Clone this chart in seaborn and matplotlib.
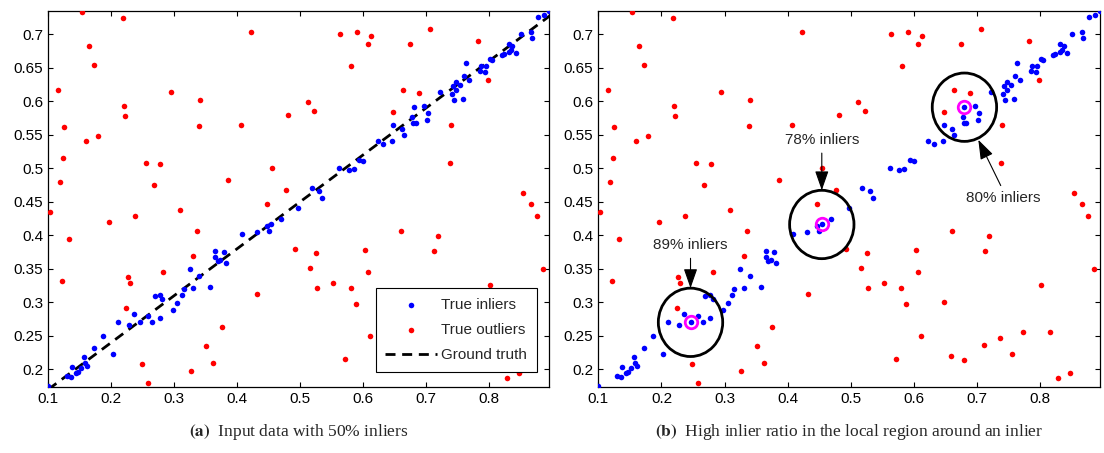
import matplotlib
matplotlib.use('agg')
import matplotlib.pyplot as plt
from matplotlib.patches import Circle
import seaborn as sns

# true inliers (blue)
inlier_x = [0.100, 0.129, 0.136, 0.138, 0.144, 0.147, 0.152, 0.157, 0.158, 0.162,
            0.173, 0.186, 0.203, 0.211, 0.228, 0.236, 0.246, 0.258, 0.265, 0.269,
            0.277, 0.277, 0.281, 0.298, 0.305, 0.312, 0.315, 0.325, 0.330, 0.340,
            0.357, 0.365, 0.365, 0.369, 0.373, 0.379, 0.382, 0.408, 0.431, 0.447,
            0.450, 0.454, 0.469, 0.497, 0.518, 0.530, 0.535, 0.562, 0.577, 0.585,
            0.594, 0.600, 0.623, 0.632, 0.646, 0.647, 0.661, 0.664, 0.677, 0.679,
            0.683, 0.680, 0.697, 0.703, 0.701, 0.722, 0.741, 0.744, 0.758, 0.747,
            0.742, 0.748, 0.754, 0.760, 0.768, 0.763, 0.785, 0.794, 0.787, 0.795,
            0.801, 0.805, 0.821, 0.824, 0.831, 0.834, 0.842, 0.831, 0.837, 0.850,
            0.866, 0.868, 0.878, 0.887, 0.895]
inlier_y = [0.175, 0.190, 0.189, 0.203, 0.195, 0.196, 0.202, 0.218, 0.209, 0.205,
            0.232, 0.249, 0.223, 0.270, 0.266, 0.283, 0.270, 0.280, 0.271, 0.310,
            0.311, 0.277, 0.305, 0.289, 0.299, 0.311, 0.320, 0.350, 0.321, 0.339,
            0.322, 0.377, 0.367, 0.362, 0.363, 0.375, 0.358, 0.402, 0.405, 0.414,
            0.407, 0.416, 0.424, 0.440, 0.471, 0.466, 0.455, 0.501, 0.498, 0.499,
            0.512, 0.511, 0.540, 0.536, 0.541, 0.565, 0.558, 0.550, 0.576, 0.568,
            0.567, 0.591, 0.593, 0.583, 0.572, 0.614, 0.610, 0.602, 0.603, 0.617,
            0.622, 0.629, 0.624, 0.638, 0.632, 0.657, 0.645, 0.643, 0.653, 0.653,
            0.663, 0.661, 0.669, 0.671, 0.674, 0.676, 0.672, 0.685, 0.683, 0.700,
            0.703, 0.694, 0.726, 0.728, 0.735]

# true outliers (red)
outlier_x = [0.153, 0.219, 0.422, 0.164, 0.173, 0.115, 0.294, 0.341, 0.220, 0.222,
             0.481, 0.125, 0.339, 0.406, 0.179, 0.159, 0.123, 0.255, 0.278, 0.455,
             0.118, 0.268, 0.386, 0.477,
             0.563, 0.590, 0.612, 0.607, 0.706, 0.674, 0.783, 0.581, 0.798, 0.663,
             0.689, 0.512, 0.522, 0.647, 0.740, 0.738, 0.853,
             0.102, 0.132, 0.122, 0.196, 0.237, 0.309, 0.336, 0.330, 0.226, 0.230,
             0.282, 0.224, 0.432, 0.375, 0.351, 0.249, 0.362, 0.326, 0.258, 0.447,
             0.492,
             0.525, 0.516, 0.527, 0.552, 0.580, 0.588, 0.603, 0.607, 0.660, 0.713,
             0.719, 0.611, 0.571, 0.866, 0.876, 0.886, 0.802, 0.829, 0.847,
             0.648, 0.815, 0.772, 0.737, 0.711, 0.755, 0.658, 0.680]
outlier_y = [0.733, 0.724, 0.703, 0.683, 0.654, 0.616, 0.613, 0.601, 0.593, 0.578,
             0.579, 0.561, 0.563, 0.564, 0.548, 0.541, 0.515, 0.508, 0.506, 0.501,
             0.480, 0.475, 0.482, 0.467,
             0.700, 0.703, 0.697, 0.686, 0.708, 0.685, 0.690, 0.652, 0.631, 0.616,
             0.612, 0.599, 0.585, 0.584, 0.565, 0.507, 0.463,
             0.435, 0.394, 0.331, 0.420, 0.429, 0.437, 0.406, 0.369, 0.337, 0.329,
             0.345, 0.292, 0.313, 0.263, 0.234, 0.208, 0.210, 0.198, 0.180, 0.447,
             0.379,
             0.373, 0.351, 0.321, 0.329, 0.321, 0.298, 0.378, 0.345, 0.407, 0.377,
             0.399, 0.249, 0.216, 0.446, 0.428, 0.350, 0.325, 0.187, 0.195,
             0.300, 0.255, 0.255, 0.247, 0.236, 0.223, 0.220, 0.214]

# ground truth line y = 0.7 x + 0.1
gt_x = [0.1, 0.9]
gt_y = [0.17, 0.73]

# local regions in panel (b): picked inlier, radius, ratio label
query_idx = [16, 41, 61]
query_labels = ['89% inliers', '78% inliers', '80% inliers']
region_radius = 0.051

xticks = [0.1, 0.2, 0.3, 0.4, 0.5, 0.6, 0.7, 0.8]
yticks = [0.2, 0.25, 0.3, 0.35, 0.4, 0.45, 0.5, 0.55, 0.6, 0.65, 0.7]

captions = [('(a)', 'Input data with 50% inliers'),
            ('(b)', 'High inlier ratio in the local region around an inlier')]

sns.set_style('ticks')
plt.rcParams['font.family'] = ['Liberation Sans', 'DejaVu Sans']

fig = plt.figure(figsize=(11.04, 4.53), dpi=100)
ax1 = fig.add_axes([0.0438, 0.1464, 0.4535, 0.83])
ax2 = fig.add_axes([0.5420, 0.1464, 0.4545, 0.83])

for ax in (ax1, ax2):
    sns.scatterplot(x=inlier_x, y=inlier_y, ax=ax, color='#0000ff', s=16,
                    linewidth=0, label='True inliers', zorder=3)
    sns.scatterplot(x=outlier_x, y=outlier_y, ax=ax, color='#ff0000', s=16,
                    linewidth=0, label='True outliers', zorder=3)
    ax.set_xlim(0.1, 0.895)
    ax.set_ylim(0.174, 0.735)
    ax.set_xticks(xticks)
    ax.set_xticklabels([('%g' % t) for t in xticks])
    ax.set_yticks(yticks)
    ax.set_yticklabels([('%g' % t) for t in yticks])
    ax.tick_params(direction='in', top=True, right=True, length=3.6, width=0.8,
                   pad=3.6, labelsize=11, colors='black')
    for sp in ax.spines.values():
        sp.set_linewidth(0.9)
        sp.set_color('black')

# panel (a): ground truth + legend
ax1.plot(gt_x, gt_y, color='black', linewidth=2, linestyle='--',
         dashes=(3.6, 2.4), label='Ground truth', zorder=2)
leg = ax1.legend(loc='lower right', bbox_to_anchor=(0.975, 0.04), borderaxespad=0,
                 fontsize=11, frameon=True, fancybox=False, edgecolor='black',
                 handlelength=3.4, handletextpad=0.3, labelspacing=0.75,
                 borderpad=0.6, scatterpoints=1, markerscale=1.0)
leg.get_frame().set_linewidth(0.8)
leg.get_frame().set_alpha(1)

# panel (b): local regions
ax2.get_legend().remove()
for i in query_idx:
    cx, cy = inlier_x[i], inlier_y[i]
    ax2.add_patch(Circle((cx, cy), region_radius, fill=False, edgecolor='black',
                         linewidth=2.0, zorder=4))
    ax2.plot([cx], [cy], marker='o', markersize=9, markerfacecolor='none',
             markeredgecolor='#ff00ff', markeredgewidth=2.0, zorder=5)

arrow = dict(arrowstyle='-|>,head_length=1.0,head_width=0.35', color='black',
             lw=0.8, mutation_scale=12, shrinkA=2, shrinkB=0)
# 89% and 78%: text straight above the circle
for k, ty in ((0, 0.385), (1, 0.542)):
    cx, cy = inlier_x[query_idx[k]], inlier_y[query_idx[k]]
    ax2.annotate(query_labels[k], xy=(cx, cy + region_radius), xytext=(cx, ty),
                 ha='center', va='center', fontsize=11,
                 arrowprops=dict(arrow, relpos=(0.5, 0)), zorder=6)
# 80%: text below-right, arrow up-left to circle
ax2.annotate(query_labels[2], xy=(0.702, 0.5423), xytext=(0.742, 0.455),
             ha='center', va='center', fontsize=11,
             arrowprops=dict(arrow, relpos=(0.5, 1)), zorder=6)

# captions under each panel
for ax, (tag, txt) in zip((ax1, ax2), captions):
    pos = ax.get_position()
    xc = (pos.x0 + pos.x1) / 2
    fig.text(xc, 1 - 432 / 453, r'$\mathbf{%s}$  %s' % (tag, txt),
             ha='center', va='center', fontsize=12.5, family=['Liberation Serif'],
             math_fontfamily='stix')

fig.savefig('out.png', dpi=100, facecolor='white')
